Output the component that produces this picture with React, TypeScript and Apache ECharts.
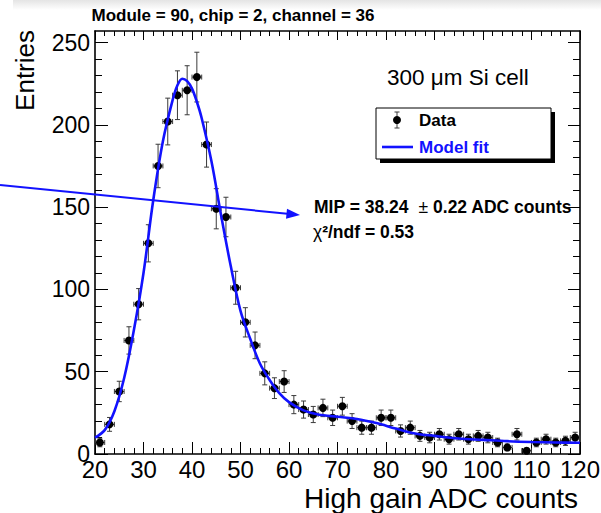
import React, { useEffect, useRef } from 'react';
import * as echarts from 'echarts';

// ---- data ----
const binCenters = [21, 23, 25, 27, 29, 31, 33, 35, 37, 39, 41, 43, 45, 47, 49, 51, 53, 55, 57, 59, 61, 63, 65, 67, 69, 71, 73, 75, 77, 79, 81, 83, 85, 87, 89, 91, 93, 95, 97, 99, 101, 103, 105, 107, 109, 111, 113, 115, 117, 119];
const entries = [7, 18, 38, 69, 91, 128, 175, 202, 218, 221, 229, 188, 149, 144, 101, 80, 66, 49, 40, 44, 30, 27, 24, 28, 22, 29, 20, 16, 16, 22, 22, 14, 16, 11, 10, 12, 9, 12, 9, 11, 10, 7, 4, 12, 2, 7, 9, 7, 8, 10];
const entryErrors = [2.6, 4.2, 6.2, 8.3, 9.5, 11.3, 13.2, 14.2, 14.8, 14.9, 15.1, 13.7, 12.2, 12.0, 10.0, 8.9, 8.1, 7.0, 6.3, 6.6, 5.5, 5.2, 4.9, 5.3, 4.7, 5.4, 4.5, 4.0, 4.0, 4.7, 4.7, 3.7, 4.0, 3.3, 3.2, 3.5, 3.0, 3.5, 3.0, 3.3, 3.2, 2.6, 2.0, 3.5, 1.4, 2.6, 3.0, 2.6, 2.8, 3.2];
const binHalfWidth = 1;

const fitX = [20, 22, 24, 26, 28, 30, 32, 34, 36, 37, 38, 39, 40, 41, 42, 44, 46, 48, 50, 52, 54, 56, 58, 60, 63, 66, 70, 74, 78, 82, 86, 90, 95, 100, 105, 110, 115, 120];
const fitY = [10, 14.5, 26, 46, 75, 110, 154, 190, 215, 224, 228, 226.5, 222, 214, 204, 178, 145, 114, 87, 70, 55, 45, 37, 31.5, 26.5, 24, 22.6, 21.3, 18.8, 15.5, 12.5, 11, 9.4, 8.6, 7.8, 7.3, 7, 6.8];

const xMin = 20;
const xMax = 120;
const xInterval = 10;
const yMax = 257;
const yMajorTicks = [0, 50, 100, 150, 200, 250];

const titleText = 'Module = 90, chip = 2, channel = 36';
const xTitle = 'High gain ADC counts';
const yTitle = 'Entries';
const cellText = '300 \u03bcm Si cell';
const legendData = 'Data';
const legendFit = 'Model fit';

const FONT = 'Liberation Sans, Arial, Helvetica, sans-serif';
const BLUE = '#1212ff';

export default function App() {
  const ref = useRef<HTMLDivElement>(null);

  useEffect(() => {
    if (!ref.current) return;
    const chart = echarts.init(ref.current, null, { renderer: 'svg' });

    const yMinor: number[] = [];
    for (let v = 10; v < yMax; v += 10) if (v % 50 !== 0) yMinor.push(v);

    const axisLineStyle = { color: '#000', width: 1.6 };
    const tickLine = { color: '#000', width: 1 };

    const xAxisBase = {
      type: 'value',
      min: xMin,
      max: xMax,
      interval: xInterval,
      splitLine: { show: false },
      axisLine: { show: true, onZero: false, lineStyle: axisLineStyle },
    };

    const yAxisBase = {
      type: 'value',
      min: 0,
      max: yMax,
      splitLine: { show: false },
    };

    const option: any = {
      animation: false,
      backgroundColor: '#fff',
      grid: { left: 95, top: 31, width: 485, height: 423, containLabel: false, outerBoundsMode: 'none' },
      xAxis: [
        {
          ...xAxisBase,
          position: 'bottom',
          axisTick: { show: true, inside: true, length: 12, lineStyle: tickLine },
          minorTick: { show: true, splitNumber: 5, length: 6, lineStyle: tickLine },
          axisLabel: { show: true, color: '#000', fontSize: 24, fontFamily: FONT, margin: 3 },
        },
        {
          ...xAxisBase,
          position: 'top',
          axisTick: { show: true, inside: true, length: 9, lineStyle: tickLine },
          minorTick: { show: true, splitNumber: 5, length: 5, lineStyle: tickLine },
          axisLabel: { show: false },
        },
      ],
      yAxis: [
        {
          ...yAxisBase,
          position: 'left',
          axisLine: { show: true, onZero: false, lineStyle: axisLineStyle },
          axisTick: { show: true, inside: true, length: 13, lineStyle: tickLine, customValues: yMajorTicks },
          axisLabel: { show: true, color: '#000', fontSize: 23, fontFamily: FONT, margin: 5, customValues: yMajorTicks },
        },
        {
          ...yAxisBase,
          position: 'left',
          axisLine: { show: false, onZero: false },
          axisTick: { show: true, inside: true, length: 7, lineStyle: tickLine, customValues: yMinor },
          axisLabel: { show: false },
        },
        {
          ...yAxisBase,
          position: 'right',
          axisLine: { show: true, onZero: false, lineStyle: axisLineStyle },
          axisTick: { show: true, inside: true, length: 12, lineStyle: tickLine, customValues: yMajorTicks },
          axisLabel: { show: false },
        },
        {
          ...yAxisBase,
          position: 'right',
          axisLine: { show: false, onZero: false },
          axisTick: { show: true, inside: true, length: 7, lineStyle: tickLine, customValues: yMinor },
          axisLabel: { show: false },
        },
      ],
      series: [
        {
          type: 'custom',
          name: legendData,
          xAxisIndex: 0,
          yAxisIndex: 0,
          z: 2,
          data: binCenters.map((x, i) => [x, entries[i], entryErrors[i]]),
          encode: { x: 0, y: 1 },
          renderItem: (_params: any, api: any) => {
            const x = api.value(0) as number;
            const y = api.value(1) as number;
            const e = api.value(2) as number;
            const c = api.coord([x, y]);
            const t = api.coord([x, y + e]);
            const b = api.coord([x, Math.max(y - e, 0)]);
            const l = api.coord([x - binHalfWidth, y]);
            const r = api.coord([x + binHalfWidth, y]);
            const cap = 2.5;
            const st = { stroke: '#3a3a3a', lineWidth: 1 };
            return {
              type: 'group',
              children: [
                { type: 'line', shape: { x1: c[0], y1: t[1], x2: c[0], y2: b[1] }, style: st },
                { type: 'line', shape: { x1: c[0] - cap, y1: t[1], x2: c[0] + cap, y2: t[1] }, style: st },
                { type: 'line', shape: { x1: c[0] - cap, y1: b[1], x2: c[0] + cap, y2: b[1] }, style: st },
                { type: 'line', shape: { x1: l[0], y1: c[1], x2: r[0], y2: c[1] }, style: st },
                { type: 'line', shape: { x1: l[0], y1: c[1] - cap, x2: l[0], y2: c[1] + cap }, style: st },
                { type: 'line', shape: { x1: r[0], y1: c[1] - cap, x2: r[0], y2: c[1] + cap }, style: st },
                { type: 'circle', shape: { cx: c[0], cy: c[1], r: 4 }, style: { fill: '#000' } },
              ],
            };
          },
        },
        {
          type: 'line',
          name: legendFit,
          xAxisIndex: 0,
          yAxisIndex: 0,
          z: 3,
          data: fitX.map((x, i) => [x, fitY[i]]),
          smooth: 0.35,
          symbol: 'none',
          lineStyle: { color: BLUE, width: 2.6 },
        },
      ],
      graphic: [
        {
          type: 'rect',
          left: 13,
          top: 0,
          shape: { width: 588, height: 10 },
          style: {
            fill: new echarts.graphic.LinearGradient(0, 0, 0, 1, [
              { offset: 0, color: '#e4e4e4' },
              { offset: 1, color: '#ffffff' },
            ]),
          },
          z: -1,
        },
        {
          type: 'text',
          x: 233,
          y: 15,
          style: { text: titleText, fontSize: 17, fontWeight: 'bold', fontFamily: FONT, fill: '#000', align: 'center', verticalAlign: 'middle' },
        },
        {
          type: 'text',
          x: 25,
          y: 30,
          rotation: Math.PI / 2,
          style: { text: yTitle, fontSize: 26, fontFamily: FONT, fill: '#000', align: 'right', verticalAlign: 'middle' },
        },
        {
          type: 'text',
          x: 578,
          y: 498,
          style: { text: xTitle, fontSize: 28, fontFamily: FONT, fill: '#000', align: 'right', verticalAlign: 'middle' },
        },
        {
          type: 'text',
          x: 387,
          y: 77,
          style: { text: cellText, fontSize: 22.5, fontFamily: FONT, fill: '#000', align: 'left', verticalAlign: 'middle' },
        },
        // legend shadow + box
        { type: 'rect', shape: { x: 380, y: 112, width: 175, height: 51 }, style: { fill: '#000' } },
        { type: 'rect', shape: { x: 376, y: 108, width: 175, height: 51 }, style: { fill: '#fff', stroke: '#000', lineWidth: 1 } },
        { type: 'line', shape: { x1: 397, y1: 112, x2: 397, y2: 128 }, style: { stroke: '#3a3a3a', lineWidth: 1 } },
        { type: 'line', shape: { x1: 394.5, y1: 112, x2: 399.5, y2: 112 }, style: { stroke: '#3a3a3a', lineWidth: 1 } },
        { type: 'line', shape: { x1: 394.5, y1: 128, x2: 399.5, y2: 128 }, style: { stroke: '#3a3a3a', lineWidth: 1 } },
        { type: 'circle', shape: { cx: 397, cy: 120, r: 4 }, style: { fill: '#000' } },
        {
          type: 'text',
          x: 419,
          y: 120,
          style: { text: legendData, fontSize: 17, fontWeight: 'bold', fontFamily: FONT, fill: '#000', align: 'left', verticalAlign: 'middle' },
        },
        { type: 'line', shape: { x1: 382, y1: 147, x2: 413, y2: 147 }, style: { stroke: BLUE, lineWidth: 2.6 } },
        {
          type: 'text',
          x: 419,
          y: 147,
          style: { text: legendFit, fontSize: 17, fontWeight: 'bold', fontFamily: FONT, fill: BLUE, align: 'left', verticalAlign: 'middle' },
        },
        // fit result annotation
        {
          type: 'text',
          x: 314,
          y: 207,
          style: {
            text: '{b|MIP = 38.24 }{n| \u00b1}{b| 0.22 ADC counts}',
            align: 'left',
            verticalAlign: 'middle',
            rich: {
              b: { fontSize: 17.5, fontWeight: 'bold', fontFamily: FONT, fill: '#000' },
              n: { fontSize: 17.5, fontFamily: FONT, fill: '#000' },
            },
          },
        },
        {
          type: 'text',
          x: 313,
          y: 232,
          style: {
            text: '{c|\u03c7}{b|\u00b2/ndf = 0.53}',
            align: 'left',
            verticalAlign: 'middle',
            rich: {
              c: { fontSize: 17.5, fontFamily: FONT, fill: '#000' },
              b: { fontSize: 17.5, fontWeight: 'bold', fontFamily: FONT, fill: '#000' },
            },
          },
        },
        // arrow
        { type: 'line', shape: { x1: 0, y1: 185, x2: 290, y2: 214 }, style: { stroke: BLUE, lineWidth: 2 }, z: 10 },
        { type: 'polygon', shape: { points: [[300, 215], [287, 208.7], [286, 218.7]] }, style: { fill: BLUE }, z: 10 },
      ],
    };

    chart.setOption(option);
    return () => chart.dispose();
  }, []);

  return (
    <div
      ref={ref}
      style={{ position: 'fixed', left: 0, top: 0, width: 601, height: 513, background: '#fff' }}
    />
  );
}
